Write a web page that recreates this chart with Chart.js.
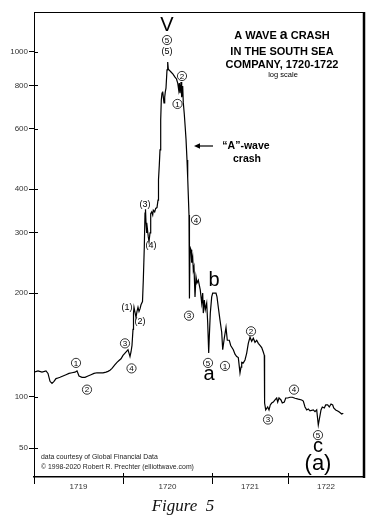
<!DOCTYPE html>
<html>
<head>
<meta charset="utf-8">
<title>South Sea Company 1720-1722</title>
<script src="https://cdn.jsdelivr.net/npm/chart.js@4.4.1/dist/chart.umd.min.js"></script>
<style>
html, body { margin: 0; padding: 0; background: #fff; }
canvas { display: block; }
</style>
</head>
<body>
<canvas id="southSea" width="374" height="523"></canvas>
<script>
// trading-session index (0 = left edge of 1719) and share price
const days = [
  0, 4, 8, 12, 14, 16, 18, 20, 22, 24, 26, 29, 32, 35, 38, 41, 43, 45, 48, 51,
  54, 57, 60, 63, 66, 69, 72, 74, 76, 78, 81, 83, 85, 87, 89, 91, 93, 94, 95, 96,
  97, 98, 99, 99.5, 100, 101, 102, 103, 104, 105, 106, 107, 108.5, 109.3, 110.3, 111, 111.5, 112, 112.7, 113.3,
  114.3, 115, 116, 116.7, 117.7, 118.7, 119.3, 120.7, 121.7, 123, 124, 124.5, 125.3, 126, 126.7, 127.3, 128, 128.7, 129.3, 130,
  130.7, 131.3, 132, 133, 133.7, 134.3, 135, 137, 139, 141, 142.5, 143.7, 144.7, 145.3, 146, 147, 147.7, 148.7, 149.3, 150.3,
  151.3, 152, 153, 153.7, 154.3, 155, 155.3, 155.6, 156, 157, 157.7, 158.7, 159.3, 160, 161, 162, 163, 164.3, 165.3, 166.3,
  167.7, 168.7, 169.3, 170.3, 171.3, 172.7, 173.7, 174.7, 175.3, 176.3, 177.7, 178.7, 182, 183, 184.3, 186, 187.7, 188.7, 190.3, 192,
  193.3, 195.3, 196.7, 199.3, 201, 202.7, 204.3, 206, 207, 207.7, 209.3, 211, 212.7, 214.3, 216, 217.7, 219.3, 221, 222.7, 224.3,
  226, 227.7, 229.3, 230.3, 230.6, 231.7, 233.7, 235, 236.3, 237.7, 239.3, 241, 242.7, 243.7, 245, 247, 248.3, 250.3, 251.7, 253.7,
  256, 258.3, 261, 264.3, 267.7, 269.3, 271, 272.7, 274.3, 276, 279.3, 281, 282.7, 284.3, 287, 288.3, 290.3, 291.7, 293.7, 295.3,
  297, 298.7, 299.7, 301.7, 303.7, 305.3, 307.7, 309.3
];
const prices = [
  118, 119, 118, 119, 117, 111, 109.5, 111, 113, 113.5, 114, 115, 116, 117, 117.5, 118, 119, 115, 114, 114,
  115, 116, 117, 117.5, 117.5, 117.5, 118, 118.6, 119.5, 121, 124, 126, 127.5, 129, 132, 134, 136, 137, 134, 131,
  135, 141, 157, 175, 182, 176, 170, 177, 182, 177, 180, 185, 189, 218, 272, 341, 350, 320, 299, 309,
  291, 282, 299, 340, 344, 337, 348, 344, 352, 354, 372, 426, 470, 520, 635, 726, 760, 768, 740, 712,
  740, 766, 786, 887, 935, 893, 887, 875, 863, 846, 835, 813, 776, 813, 760, 818, 740, 797, 712, 660,
  600, 560, 486, 431, 385, 337, 305, 193, 272, 267, 245, 254, 233, 238, 195, 223, 214, 218, 211, 204,
  187, 200, 175, 191, 179, 187, 164, 134, 149.5, 175, 195, 200, 200, 195, 182, 167, 154, 137, 148, 159,
  146, 146, 141, 137, 133, 131, 130, 117.4, 122, 126, 125.5, 128, 134, 143, 149, 145, 148, 144, 146, 143,
  141, 139, 135, 132, 96, 91.7, 93.5, 91.7, 94.8, 96, 96.6, 98, 99.3, 96.6, 99.3, 98, 96, 96.6, 99.3, 99.3,
  99.8, 99.8, 99.1, 98.5, 98, 97.3, 93.5, 91.7, 92.3, 91.1, 91.7, 90.6, 91.7, 82.9, 91.7, 93.5, 92.9, 94.8, 94.8, 93.5,
  95.4, 94.8, 92.9, 91.7, 91.1, 90.4, 89.2, 89.7
];

// year boundaries on the session axis, labels sit between them
const yearBounds = [0, 89, 178, 254, 330];
const yearLabels = ["1719", "1720", "1721", "1722"];

const yTickValues = [1000, 800, 600, 400, 300, 200, 100, 71];
const yTickLabels = ["1000", "800", "600", "400", "300", "200", "100", "50"];

// Elliott wave labels: [session, price, text, kind]
const waveLabels = [
  [133, 1190, "V", "big"],
  [133, 1083, "5", "circ"],
  [133, 1000, "(5)", "paren"],
  [148, 852, "2", "circ"],
  [143.5, 707, "1", "circ"],
  [111, 362, "(3)", "paren"],
  [117, 274, "(4)", "paren"],
  [162, 326, "4", "circ"],
  [180, 217, "b", "big"],
  [93, 182, "(1)", "paren"],
  [106, 165, "(2)", "paren"],
  [155, 172, "3", "circ"],
  [91, 143, "3", "circ"],
  [97.5, 121, "4", "circ"],
  [42, 125.5, "1", "circ"],
  [53, 105, "2", "circ"],
  [174, 125.5, "5", "circ"],
  [175, 115.8, "a", "big"],
  [191, 123, "1", "circ"],
  [217, 155, "2", "circ"],
  [234, 86, "3", "circ"],
  [260, 105, "4", "circ"],
  [284, 77.5, "5", "circ"],
  [284, 71.7, "c", "big"],
  [284, 64, "(a)", "huge"]
];

const FONT = "'Liberation Sans', Arial, sans-serif";

const overlay = {
  id: "overlay",
  afterDraw(chart) {
    const ctx = chart.ctx;
    const a = chart.chartArea;
    const x = chart.scales.x;
    const y = chart.scales.y;

    function seg(x1, y1, x2, y2) {
      ctx.beginPath();
      ctx.moveTo(x1, y1);
      ctx.lineTo(x2, y2);
      ctx.stroke();
    }

    ctx.save();
    ctx.strokeStyle = "#000";
    ctx.fillStyle = "#000";

    // frame: thin top, heavy right
    ctx.lineWidth = 1;
    seg(a.left, a.top + 0.5, a.right, a.top + 0.5);
    ctx.lineWidth = 2.5;
    seg(a.right, a.top, a.right, a.bottom + 1);

    // tick stubs reaching inside the plot
    ctx.lineWidth = 1;
    yTickValues.forEach(v => {
      const py = Math.round(y.getPixelForValue(v)) + 0.5;
      seg(a.left, py, a.left + 4, py);
    });
    yearBounds.slice(0, 4).forEach(d => {
      const px = Math.round(x.getPixelForValue(d)) + 0.5;
      seg(px, a.bottom - 4, px, a.bottom);
    });

    // wave labels
    ctx.textAlign = "center";
    ctx.textBaseline = "middle";
    waveLabels.forEach(([d, p, txt, kind]) => {
      const px = x.getPixelForValue(d);
      const py = y.getPixelForValue(p);
      if (kind === "circ") {
        ctx.lineWidth = 0.8;
        ctx.beginPath();
        ctx.arc(px, py, 4.6, 0, Math.PI * 2);
        ctx.stroke();
        ctx.font = "8px " + FONT;
        ctx.fillText(txt, px, py + 0.5);
      } else if (kind === "paren") {
        ctx.font = "9px " + FONT;
        ctx.fillText(txt, px, py);
      } else if (kind === "huge") {
        ctx.font = "22px " + FONT;
        ctx.fillText(txt, px, py);
      } else {
        ctx.font = "20px " + FONT;
        ctx.fillText(txt, px, py);
      }
    });

    // title block
    const cx = a.right - 82;
    const f1 = "bold 11px " + FONT;
    const f2 = "bold 14px " + FONT;
    ctx.font = f1;
    const w1 = ctx.measureText("A WAVE ").width;
    const w3 = ctx.measureText(" CRASH").width;
    ctx.font = f2;
    const w2 = ctx.measureText("a").width;
    let tx = cx - (w1 + w2 + w3) / 2;
    ctx.textAlign = "left";
    ctx.textBaseline = "alphabetic";
    ctx.font = f1;
    ctx.fillText("A WAVE ", tx, a.top + 27);
    ctx.font = f2;
    ctx.fillText("a", tx + w1, a.top + 27);
    ctx.font = f1;
    ctx.fillText(" CRASH", tx + w1 + w2, a.top + 27);
    ctx.textAlign = "center";
    ctx.fillText("IN THE SOUTH SEA", cx, a.top + 43);
    ctx.fillText("COMPANY, 1720-1722", cx, a.top + 56);
    ctx.font = "7.5px " + FONT;
    ctx.fillText("log scale", cx + 1, a.top + 65);

    // arrow pointing at the crash
    const ay = a.top + 134;
    ctx.lineWidth = 1.2;
    seg(a.left + 165, ay, a.left + 179, ay);
    ctx.beginPath();
    ctx.moveTo(a.left + 160, ay);
    ctx.lineTo(a.left + 166, ay - 2.8);
    ctx.lineTo(a.left + 166, ay + 2.8);
    ctx.closePath();
    ctx.fill();
    ctx.font = "bold 10.5px " + FONT;
    ctx.textBaseline = "middle";
    ctx.fillText("\u201CA\u201D-wave", a.left + 212, ay);
    ctx.fillText("crash", a.left + 213, ay + 13);

    // credits
    ctx.textAlign = "left";
    ctx.font = "6.9px " + FONT;
    ctx.fillStyle = "#222";
    ctx.fillText("data courtesy of Global Financial Data", a.left + 7, a.bottom - 20);
    ctx.fillText("\u00A9 1998-2020 Robert R. Prechter (elliottwave.com)", a.left + 7, a.bottom - 10);

    // caption
    ctx.fillStyle = "#111";
    ctx.textAlign = "center";
    ctx.font = "italic 17px 'Liberation Serif', 'Times New Roman', serif";
    ctx.fillText("Figure  5", 183, chart.height - 16);
    ctx.restore();
  }
};

new Chart(
  document.getElementById("southSea"),
  {
    type: "line",
    data: {
      datasets: [{
        label: "South Sea Company",
        data: days.map((d, i) => ({ x: d, y: prices[i] })),
        borderColor: "#000",
        borderWidth: 1.2,
        pointRadius: 0,
        tension: 0,
        fill: false
      }]
    },
    options: {
      responsive: false,
      animation: false,
      layout: { padding: { left: 0, top: 12, right: 10, bottom: 24 } },
      plugins: {
        legend: { display: false },
        tooltip: { enabled: false }
      },
      scales: {
        x: {
          type: "linear",
          position: "bottom",
          weight: 0,
          min: yearBounds[0],
          max: yearBounds[yearBounds.length - 1],
          afterBuildTicks: s => { s.ticks = yearBounds.slice(0, 4).map(v => ({ value: v })); },
          afterFit: s => { s.height = 4; },
          grid: { drawOnChartArea: false, tickLength: 7, color: "#000", lineWidth: 1 },
          border: { display: true, color: "#000", width: 1.5 },
          ticks: { display: false }
        },
        x2: {
          type: "linear",
          position: "bottom",
          weight: 1,
          min: yearBounds[0],
          max: yearBounds[yearBounds.length - 1],
          afterBuildTicks: s => {
            s.ticks = yearLabels.map((_, i) => ({ value: (yearBounds[i] + yearBounds[i + 1]) / 2 }));
          },
          afterFit: s => { s.height = 18; },
          grid: { display: false, drawTicks: false },
          border: { display: false },
          ticks: {
            autoSkip: false,
            maxRotation: 0,
            padding: 1,
            color: "#333",
            font: { family: FONT, size: 8 },
            callback: (v, i) => yearLabels[i]
          }
        },
        y: {
          type: "logarithmic",
          min: 58.6,
          max: 1306,
          afterBuildTicks: s => { s.ticks = yTickValues.map(v => ({ value: v })); },
          afterFit: s => { s.width = 34; },
          grid: { drawOnChartArea: false, tickLength: 5, color: "#000", lineWidth: 1 },
          border: { display: true, color: "#000", width: 1 },
          ticks: {
            autoSkip: false,
            padding: 1,
            color: "#333",
            font: { family: FONT, size: 8 },
            callback: v => {
              const i = yTickValues.indexOf(v);
              return i >= 0 ? yTickLabels[i] : "";
            }
          }
        }
      }
    },
    plugins: [overlay]
  }
);
</script>
</body>
</html>
